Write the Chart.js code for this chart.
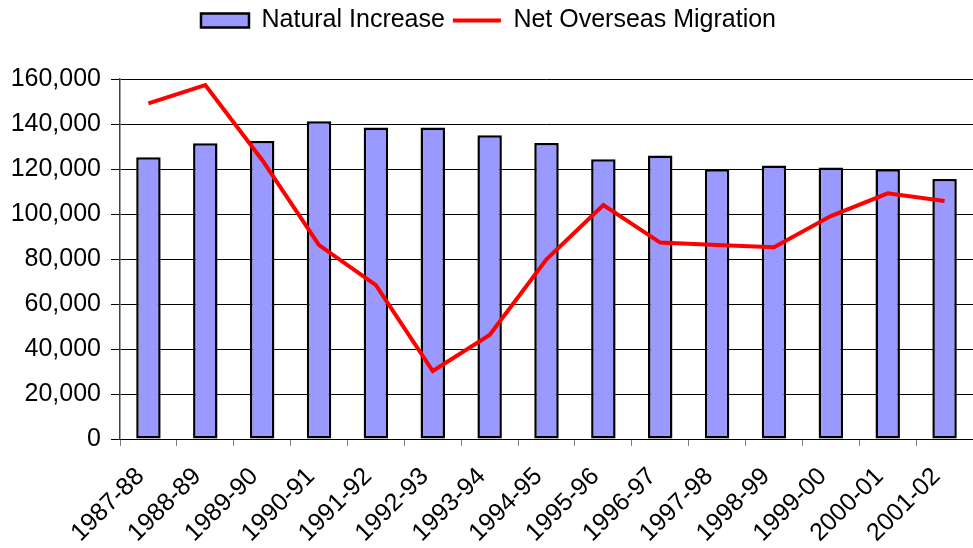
<!DOCTYPE html>
<html>
<head>
<meta charset="utf-8">
<script src="https://cdn.jsdelivr.net/npm/chart.js@4/dist/chart.umd.min.js"></script>
<style>
  html, body { margin: 0; padding: 0; background: #fff; overflow: hidden; }
  #wrap { width: 973px; height: 548px; position: relative; }
</style>
</head>
<body>
<div id="wrap"><canvas id="c" width="973" height="548"></canvas></div>
<script>
const categories = ['1987-88','1988-89','1989-90','1990-91','1991-92','1992-93','1993-94','1994-95','1995-96','1996-97','1997-98','1998-99','1999-00','2000-01','2001-02'];
const naturalIncrease = [125200, 131400, 132400, 141200, 138400, 138400, 135000, 131600, 124300, 126000, 119900, 121600, 120700, 119900, 115600];
const netOverseasMigration = [149200, 157300, 124000, 86200, 68400, 30200, 46200, 79900, 104000, 87300, 86200, 85200, 99100, 109200, 105800];
const yTicks = [0, 20000, 40000, 60000, 80000, 100000, 120000, 140000, 160000];

const FONT = "'Liberation Sans', Arial, sans-serif";

const legendHeight = {
  id: 'legendHeight',
  beforeInit(chart) {
    const lg = chart.legend;
    const orig = lg.fit;
    lg.fit = function () { orig.call(this); this.height = 79; };
  }
};

new Chart(document.getElementById('c'), {
  data: {
    labels: categories,
    datasets: [
      {
        type: 'bar',
        label: 'Natural Increase',
        data: naturalIncrease,
        backgroundColor: '#9999FF',
        borderColor: '#000000',
        borderWidth: 2.5,
        borderSkipped: false,
        barPercentage: 0.43,
        categoryPercentage: 1.0,
        pointStyle: 'rect',
        order: 2
      },
      {
        type: 'line',
        label: 'Net Overseas Migration',
        data: netOverseasMigration,
        borderColor: '#FF0000',
        backgroundColor: '#FF0000',
        borderWidth: 4,
        pointRadius: 0,
        tension: 0,
        pointStyle: 'line',
        order: 1
      }
    ]
  },
  options: {
    responsive: false,
    animation: false,
    layout: { padding: { left: 0, right: -4, top: 0, bottom: 0 } },
    plugins: {
      tooltip: { enabled: false },
      legend: {
        position: 'top',
        labels: {
          usePointStyle: true,
          pointStyleWidth: 48,
          boxHeight: 14,
          padding: 8,
          color: '#000',
          font: { family: FONT, size: 25 },
          sort: (a, b) => a.datasetIndex - b.datasetIndex
        }
      }
    },
    scales: {
      x: {
        offset: true,
        grid: {
          display: true,
          offset: true,
          drawOnChartArea: false,
          drawTicks: true,
          tickLength: 7,
          color: '#808080'
        },
        border: { display: true, color: '#000', width: 1 },
        ticks: {
          color: '#000',
          font: { family: FONT, size: 25 },
          maxRotation: 45,
          minRotation: 45,
          autoSkip: false,
          padding: 16,
          labelOffset: -8
        },
        afterFit(s) { s.height = 109; s.paddingRight = 0; s.paddingLeft = 0; }
      },
      y: {
        min: 0,
        max: 160000,
        afterBuildTicks(s) { s.ticks = yTicks.map(v => ({ value: v })); },
        grid: {
          color: '#000',
          lineWidth: 1,
          tickLength: 9,
          drawTicks: true
        },
        border: { display: true, color: '#404040', width: 1.5 },
        ticks: {
          color: '#000',
          font: { family: FONT, size: 25 },
          padding: 10,
          callback: v => Number(v).toLocaleString('en-US')
        },
        afterFit(s) { s.width = 120; }
      }
    }
  },
  plugins: [legendHeight]
});
</script>
</body>
</html>
